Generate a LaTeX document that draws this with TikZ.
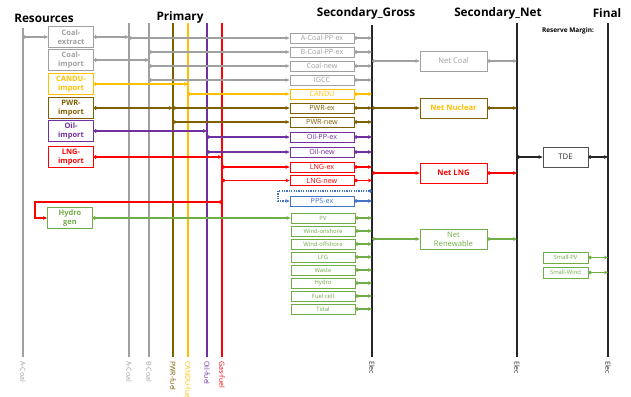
\documentclass[tikz,border=0pt]{standalone}
\usepackage{fontspec}
\setmainfont{Open Sans}
\usetikzlibrary{arrows.meta,calc}
\definecolor{cgray}{HTML}{A0A0A0}
\definecolor{cyel}{HTML}{FFC000}
\definecolor{cbrn}{HTML}{7F6000}
\definecolor{cpur}{HTML}{7030A0}
\definecolor{cred}{HTML}{FF0000}
\definecolor{cgrn}{HTML}{70AD47}
\definecolor{cblu}{HTML}{4472C4}
\definecolor{cblk}{HTML}{262626}
\begin{document}
\begin{tikzpicture}[x=1bp,y=-1bp,
  res/.style={draw, fill=white, line width=0.9bp, minimum width=45bp, minimum height=21bp, inner sep=0pt, align=center, font=\fontsize{7.5}{8.5}\selectfont\bfseries},
  sec/.style={draw, fill=white, line width=0.9bp, minimum width=64bp, minimum height=10bp, inner sep=0pt, font=\fontsize{7.2}{8}\selectfont},
  secg/.style={sec, draw=cgrn, text=cgrn, font=\fontsize{5.9}{7}\selectfont},
  netb/.style={draw, fill=white, line width=0.9bp, minimum width=67bp, minimum height=20bp, inner sep=0pt, align=center, font=\fontsize{7.7}{8.7}\selectfont},
  vline/.style={line width=1.3bp},
  eline/.style={line width=1.8bp, cblk},
  blab/.style={rotate=-90, anchor=west, inner sep=0pt, font=\fontsize{7}{8}\selectfont},
  ttl/.style={font=\fontsize{11.8}{13}\selectfont\bfseries, inner sep=0pt},
  fl/.style={line width=1.1bp, arrows={Circle[length=3.4bp]-Stealth[length=4bp,width=3.8bp]}}
]
\useasboundingbox (0,0) rectangle (631,396);

% titles
\node[ttl] (tres) at (44,18) {Resources};
\node[ttl] (tpri) at (180,17) {Primary};
\node[ttl] (tsg) at (366,13) {Secondary\_Gross};
\node[ttl] (tsn) at (498,13) {Secondary\_Net};
\node[ttl] (tfi) at (607,13) {Final};
\node[font=\fontsize{6.5}{7}\selectfont\bfseries, inner sep=0pt] (rm) at (568,31) {Reserve Margin:};

% vertical lines
\coordinate (rA) at (23,28);  \coordinate (rAb) at (23,357);
\coordinate (pA) at (129,23); \coordinate (pAb) at (129,357);
\coordinate (pB) at (149,23); \coordinate (pBb) at (149,357);
\coordinate (pP) at (173,23); \coordinate (pPb) at (173,357);
\coordinate (pC) at (188,23); \coordinate (pCb) at (188,357);
\coordinate (pO) at (207,23); \coordinate (pOb) at (207,357);
\coordinate (pG) at (222,23); \coordinate (pGb) at (222,357);
\coordinate (E1) at (372,25); \coordinate (E1b) at (372,357);
\coordinate (E2) at (517,23); \coordinate (E2b) at (517,357);
\coordinate (E3) at (608,23); \coordinate (E3b) at (608,357);

\draw[vline, cgray] (rA) -- (rAb);
\draw[vline, cgray] (pA) -- (pAb);
\draw[vline, cgray] (pB) -- (pBb);
\draw[vline, cbrn] (pP) -- (pPb);
\draw[vline, cyel] (pC) -- (pCb);
\draw[vline, cpur] (pO) -- (pOb);
\draw[vline, cred] (pG) -- (pGb);
\draw[eline] (E1) -- (E1b);
\draw[eline] (E2) -- (E2b);
\draw[eline] (E3) -- (E3b);

% bottom labels
\node[blab, cgray] (lrA) at (23,361) {A-Coal};
\node[blab, cgray] (lpA) at (129,361) {A-Coal};
\node[blab, cgray] (lpB) at (149,361) {B-Coal};
\node[blab, cbrn] (lpP) at (173,361) {PWR-fuel};
\node[blab, cyel] (lpC) at (188,361) {CANDU-fuel};
\node[blab, cpur] (lpO) at (207,361) {Oil-fuel};
\node[blab, cred] (lpG) at (222,361) {Gas-fuel};
\node[blab, cblk] (lE1) at (372,361) {Elec};
\node[blab, cblk] (lE2) at (517,361) {Elec};
\node[blab, cblk] (lE3) at (608,361) {Elec};

% resource boxes
\node[res, draw=cgray, text=cgray] (cx) at (71,37) {Coal-\\extract};
\node[res, draw=cgray, text=cgray] (ci) at (71,60) {Coal-\\import};
\node[res, draw=cyel, text=cyel] (cai) at (71,84) {CANDU-\\import};
\node[res, draw=cbrn, text=cbrn] (pwi) at (71,108) {PWR-\\import};
\node[res, draw=cpur, text=cpur] (oii) at (71,131) {Oil-\\import};
\node[res, draw=cred, text=cred] (lni) at (71,157) {LNG-\\import};
\node[res, draw=cgrn, text=cgrn] (hy) at (70,218) {Hydro\\gen};

% secondary gross boxes
\node[sec, draw=cgray, text=cgray] (acpp) at (322,38) {A-Coal-PP-ex};
\node[sec, draw=cgray, text=cgray] (bcpp) at (322,52) {B-Coal-PP-ex};
\node[sec, draw=cgray, text=cgray] (cnew) at (322,66) {Coal-new};
\node[sec, draw=cgray, text=cgray] (igcc) at (322,80) {IGCC};
\node[sec, draw=cyel, text=cyel] (cand) at (322,94) {CANDU};
\node[sec, draw=cbrn, text=cbrn] (pwex) at (322,108) {PWR-ex};
\node[sec, draw=cbrn, text=cbrn] (pwnw) at (322,122) {PWR-new};
\node[sec, draw=cpur, text=cpur] (oipp) at (322,137) {Oil-PP-ex};
\node[sec, draw=cpur, text=cpur] (oinw) at (322,152) {Oil-new};
\node[sec, draw=cred, text=cred] (lnex) at (322,167) {LNG-ex};
\node[sec, draw=cred, text=cred] (lnnw) at (322,180.5) {LNG-new};
\node[sec, draw=cblu, text=cblu] (pps) at (322,201) {PPS-ex};
\node[secg] (pv) at (323,218) {PV};
\node[secg] (won) at (323,231) {Wind-onshore};
\node[secg] (wof) at (323,244) {Wind-offshore};
\node[secg] (lfg) at (323,257) {LFG};
\node[secg] (was) at (323,270) {Waste};
\node[secg] (hyd) at (323,283) {Hydro};
\node[secg] (fce) at (323,296) {Fuel cell};
\node[secg] (tid) at (323,309) {Tidal};

% net boxes
\node[netb, draw=cgray, text=cgray] (ncoal) at (453.5,61) {Net Coal};
\node[netb, draw=cbrn, text=cyel, font=\fontsize{7.7}{8.7}\selectfont\bfseries] (nnuc) at (453.5,108) {Net Nuclear};
\node[netb, draw=cred, text=cred, font=\fontsize{7.7}{8.7}\selectfont\bfseries] (nlng) at (453.5,173) {Net LNG};
\node[netb, draw=cgrn, text=cgrn] (nren) at (453.5,239) {Net\\Renewable};

% final side
\node[netb, draw=cblk!80, text=cblk, minimum width=45bp] (tde) at (565.5,157) {TDE};
\node[secg, minimum width=45bp, minimum height=11bp] (spv) at (565.5,257.5) {Small-PV};
\node[secg, minimum width=45bp, minimum height=11bp] (swi) at (565.5,272.5) {Small-Wind};

% ---- coal flows
\draw[fl, cgray] (rA |- cx.west) -- (cx.west);
\draw[fl, cgray] (cx.east) -- (pA |- cx.east);
\draw[fl, cgray] (pA |- acpp.west) -- (acpp.west);
\draw[fl, cgray] (ci.east) -- (pB |- ci.east);
\draw[fl, cgray] (pB |- bcpp.west) -- (bcpp.west);
\draw[fl, cgray] (pB |- cnew.west) -- (cnew.west);
\draw[fl, cgray] (pB |- igcc.west) -- (igcc.west);
\foreach \n in {acpp,bcpp,cnew,igcc} \draw[fl, cgray] (\n.east) -- (E1 |- \n.east);
\draw[fl, cgray] (E1 |- ncoal.west) -- (ncoal.west);
\draw[fl, cgray] (ncoal.east) -- (E2 |- ncoal.east);

% ---- nuclear
\draw[fl, cyel] (cai.east) -- (pC |- cai.east);
\draw[fl, cyel] (pC |- cand.west) -- (cand.west);
\draw[fl, cyel] (cand.east) -- (E1 |- cand.east);
\draw[fl, cbrn] (pwi.east) -- (pP |- pwi.east);
\draw[fl, cbrn] (pP |- pwex.west) -- (pwex.west);
\draw[fl, cbrn] (pP |- pwnw.west) -- (pwnw.west);
\draw[fl, cbrn] (pwex.east) -- (E1 |- pwex.east);
\draw[fl, cbrn] (pwnw.east) -- (E1 |- pwnw.east);
\draw[fl, cbrn] (E1 |- nnuc.west) -- (nnuc.west);
\draw[fl, cbrn] (nnuc.east) -- (E2 |- nnuc.east);

% ---- oil
\draw[fl, cpur] (oii.east) -- (pO |- oii.east);
\draw[fl, cpur] (pO |- oipp.west) -- (oipp.west);
\draw[fl, cpur] (pO |- oinw.west) -- (oinw.west);
\draw[fl, cpur] (oipp.east) -- (E1 |- oipp.east);
\draw[fl, cpur] (oinw.east) -- (E1 |- oinw.east);

% ---- gas
\draw[fl, cred] (lni.east) -- (pG |- lni.east);
\draw[fl, cred] (pG |- lnex.west) -- (lnex.west);
\draw[fl, cred] (pG |- lnnw.west) -- (lnnw.west);
\draw[fl, cred] (lnex.east) -- (E1 |- lnex.east);
\draw[fl, cred] (lnnw.east) -- (E1 |- lnnw.east);
\draw[fl, cred] (E1 |- nlng.west) -- (nlng.west);
\draw[fl, cred] (nlng.east) -- (E2 |- nlng.east);
\coordinate (hk) at (35,202);
\draw[fl, cred] (pG |- hk) -- (hk) |- (hy.west);

% ---- PPS
\coordinate (pk) at (278,191);
\draw[fl, cblu, dash pattern=on 1.2bp off 1.2bp] (E1 |- pk) -- (pk) |- (pps.west);
\draw[fl, cblu] (pps.east) -- (E1 |- pps.east);

% ---- renewables
\draw[fl, cgrn] (hy.east) -- (pv.west);
\foreach \n in {pv,won,wof,lfg,was,hyd,fce,tid} \draw[fl, cgrn] (\n.east) -- (E1 |- \n.east);
\draw[fl, cgrn] (E1 |- nren.west) -- (nren.west);
\draw[fl, cgrn] (nren.east) -- (E2 |- nren.east);

% ---- final
\draw[fl, cblk] (E2 |- tde.west) -- (tde.west);
\draw[fl, cblk] (tde.east) -- (E3 |- tde.east);
\draw[fl, cgrn] (spv.east) -- (E3 |- spv.east);
\draw[fl, cgrn] (swi.east) -- (E3 |- swi.east);
\end{tikzpicture}
\end{document}
